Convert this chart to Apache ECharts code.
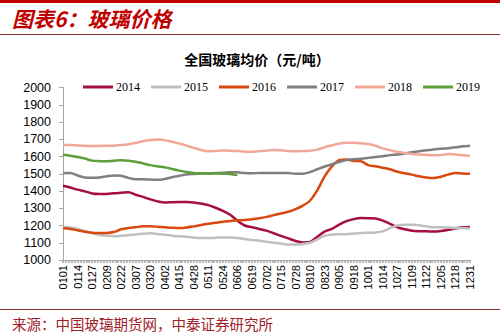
<!DOCTYPE html>
<html>
<head>
<meta charset="utf-8">
<script src="https://cdn.jsdelivr.net/npm/echarts@6/dist/echarts.min.js"></script>
<style>
html,body{margin:0;padding:0;background:#fff;}
#c{width:500px;height:335px;}
</style>
</head>
<body>
<div id="c"></div>
<script>
// x tick labels (every 13 days); data sampled at half-tick steps (57 points)
var tickLabels = ['0101','0114','0127','0209','0222','0307','0320','0402','0415','0428','0511','0524','0606','0619','0702','0715','0728','0810','0823','0905','0918','1001','1014','1027','1109','1122','1205','1218','1231'];
var seriesNames = ['2014','2015','2016','2017','2018','2019'];
var y2014 = [1430,1420,1408,1398,1386,1383,1383,1387,1390,1393,1378,1366,1352,1340,1333,1335,1336,1336,1334,1327,1318,1303,1285,1262,1228,1200,1190,1180,1170,1155,1140,1125,1110,1102,1105,1135,1165,1181,1205,1225,1237,1243,1242,1240,1228,1210,1190,1178,1170,1167,1166,1165,1168,1175,1182,1190,1192];
var y2015 = [1192,1188,1180,1168,1156,1146,1141,1138,1140,1143,1148,1152,1155,1151,1146,1141,1137,1135,1131,1127,1127,1129,1131,1130,1127,1122,1116,1112,1106,1100,1095,1090,1090,1093,1100,1120,1140,1148,1150,1150,1153,1156,1158,1160,1166,1185,1200,1205,1204,1201,1195,1190,1190,1188,1185,1185,1182];
var y2016 = [1184,1180,1172,1164,1158,1157,1157,1162,1178,1186,1190,1195,1195,1193,1190,1187,1185,1188,1195,1203,1210,1216,1222,1226,1230,1232,1236,1242,1250,1260,1270,1280,1295,1315,1345,1405,1485,1543,1578,1582,1574,1572,1550,1543,1535,1526,1512,1503,1495,1485,1478,1475,1483,1495,1505,1502,1500];
var y2017 = [1503,1505,1490,1478,1477,1478,1485,1490,1488,1476,1468,1468,1466,1465,1470,1480,1488,1496,1499,1501,1502,1504,1506,1509,1508,1504,1503,1504,1505,1505,1505,1504,1500,1500,1510,1526,1542,1555,1568,1579,1584,1587,1592,1597,1602,1608,1612,1618,1625,1630,1636,1641,1645,1648,1653,1659,1663];
var y2018 = [1668,1666,1664,1662,1661,1661,1662,1663,1666,1671,1679,1688,1695,1699,1695,1685,1675,1663,1650,1638,1630,1632,1635,1634,1632,1628,1628,1630,1634,1638,1636,1632,1630,1632,1634,1640,1654,1665,1675,1679,1679,1677,1672,1662,1647,1637,1627,1620,1615,1611,1609,1607,1608,1614,1612,1607,1605];
var y2019 = [1610,1604,1597,1588,1576,1573,1572,1575,1578,1576,1570,1560,1550,1543,1537,1528,1518,1510,1505,1503,1502,1502,1500,1499,1492];
var colors = ['#A50F3C','#BFBFBF','#D9480F','#7F7F7F','#F2A896','#5E9E3C'];

var allData = [y2014,y2015,y2016,y2017,y2018,y2019];
function toPairs(arr){ return arr.map(function(v,i){ return [i*0.5, v]; }); }

var chart = echarts.init(document.getElementById('c'), null, {renderer:'svg'});
var option = {
  animation:false,
  backgroundColor:'#fff',
  color: colors,
  title:{
    text:'全国玻璃均价（元/吨）',
    left:252, top:47, textAlign:'center',
    textStyle:{fontFamily:'Noto Sans CJK SC', fontWeight:'bold', fontSize:14, color:'#000'}
  },
  legend:{
    data: seriesNames,
    left:78, top:76,
    icon:'rect', itemWidth:30, itemHeight:3, itemGap:11,
    textStyle:{fontFamily:'Liberation Serif', fontSize:12, color:'#000', padding:[0,0,0,-2]}
  },
  grid:{left:63, right:30, top:87.5, bottom:75, containLabel:false},
  xAxis:{
    type:'value', min:0, max:28, interval:1,
    axisLine:{show:true, onZero:false, lineStyle:{color:'#A6A6A6', width:1}},
    axisTick:{show:true, length:3, inside:false, lineStyle:{color:'#A6A6A6', width:1.5}},
    minorTick:{show:true, splitNumber:5, length:3, lineStyle:{color:'#A6A6A6', width:1.5}},
    splitLine:{show:false},
    axisLabel:{
      rotate:90, margin:5, fontFamily:'Liberation Sans', fontSize:11, color:'#000',
      formatter:function(v){ return tickLabels[Math.round(v)] || ''; }
    }
  },
  yAxis:{
    type:'value', min:1000, max:2000, interval:100,
    axisLine:{show:true, lineStyle:{color:'#A6A6A6'}},
    axisTick:{show:true, length:4, lineStyle:{color:'#A6A6A6'}},
    splitLine:{show:false},
    axisLabel:{fontFamily:'Liberation Sans', fontSize:12.5, color:'#000', margin:12,
      formatter:function(v){ return String(v); }}
  },
  series: seriesNames.map(function(n,k){
    return {
      name:n, type:'line', data:toPairs(allData[k]),
      symbol:'none', smooth:0.3,
      lineStyle:{width:2.5, color:colors[k]},
      itemStyle:{color:colors[k]}
    };
  }),
  graphic:[
    {type:'rect', shape:{x:0,y:0,width:500,height:3}, style:{fill:'#C00000'}},
    {type:'text', left:12, top:7, style:{text:'图表6：玻璃价格', font:'italic bold 21px "Noto Sans CJK SC"', fill:'#C00000'}},
    {type:'rect', shape:{x:0,y:34,width:500,height:1}, style:{fill:'#8B2F2F'}},
    {type:'rect', shape:{x:0,y:309,width:500,height:1}, style:{fill:'#8B2F2F'}},
    {type:'text', left:12, top:316, style:{text:'来源：中国玻璃期货网，中泰证券研究所', font:'14.5px "Noto Sans CJK SC"', fill:'#A0202A'}}
  ]
};
chart.setOption(option);
</script>
</body>
</html>
